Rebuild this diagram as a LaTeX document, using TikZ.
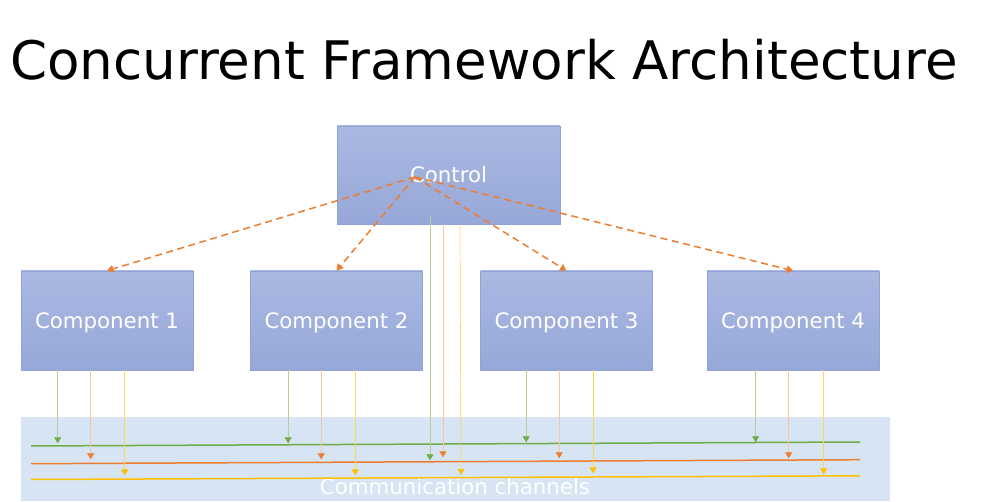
\documentclass[tikz,border=0pt]{standalone}
\usepackage{fontspec}
\setmainfont{DejaVu Sans}
\usetikzlibrary{arrows.meta}
\definecolor{boxtop}{HTML}{AAB8E2}
\definecolor{boxbot}{HTML}{97A8D8}
\definecolor{boxedge}{HTML}{8FA3D8}
\definecolor{chan}{HTML}{D6E4F3}
\definecolor{grn}{HTML}{70AD47}
\definecolor{orng}{HTML}{ED7D31}
\definecolor{ylw}{HTML}{FFC000}
\tikzset{
  box/.style={draw=boxedge, line width=0.6pt, top color=boxtop, bottom color=boxbot,
    text=white, font=\fontsize{21.3}{24}\selectfont, inner sep=0pt,
    text height=15.5pt, text depth=0pt,
    minimum width=172pt, minimum height=99pt},
  ctlarrow/.style={draw=orng, line width=1.5pt, dash pattern=on 7pt off 4.5pt,
    -{Triangle[length=6.5pt,width=7.5pt]}},
  chline/.style={line width=1.5pt},
  gfeed/.style={draw=grn!55!white, line width=0.7pt, -{Triangle[length=6pt,width=7pt,color=grn]}},
  ofeed/.style={draw=orng!45!white, line width=0.7pt, -{Triangle[length=6pt,width=7pt,color=orng]}},
  yfeed/.style={draw=ylw!65!white, line width=0.7pt, -{Triangle[length=6pt,width=7pt,color=ylw]}},
}
\begin{document}
\begin{tikzpicture}[x=1pt,y=-1pt]
\useasboundingbox (0,0) rectangle (996,502);
% title
\node[anchor=base west, inner sep=0pt, font=\fontsize{53.1}{60}\selectfont] (title) at (10,80) {Concurrent Framework Architecture};
% channels background
\node[fill=chan, inner sep=0pt, minimum width=869pt, minimum height=84pt] (chanbox) at (455.5,459) {};
\node[anchor=base, inner sep=0pt, text=white, font=\fontsize{21.3}{24}\selectfont] (chantext) at (455,494) {Communication channels};
% channel lines
\coordinate (g1) at (31,446); \coordinate (g2) at (860,442);
\coordinate (o1) at (31,463.7); \coordinate (o2) at (860,459.7);
\coordinate (y1) at (31,479.5); \coordinate (y2) at (860,475.8);
\draw[chline, grn] (g1) -- (g2);
\draw[chline, orng] (o1) -- (o2);
\draw[chline, ylw] (y1) -- (y2);
% boxes
\node[box, minimum width=223pt, minimum height=98pt] (ctl) at (448.5,175) {Control};
\node[box] (c1) at (107,320.5) {Component 1};
\node[box] (c2) at (336.5,320.5) {Component 2};
\node[box] (c3) at (566.5,320.5) {Component 3};
\node[box] (c4) at (793,320.5) {Component 4};
% control dashed arrows
\coordinate (hub) at (415,177);
\draw[ctlarrow] (hub) -- (c1.north);
\draw[ctlarrow] (hub) -- (c2.north);
\draw[ctlarrow] (hub) -- (c3.north);
\draw[ctlarrow] (hub) -- (c4.north);
% feeds from components
\draw[gfeed] ([xshift=37pt]c1.south west) -- ++(0,73);
\draw[ofeed] ([xshift=70pt]c1.south west) -- ++(0,89);
\draw[yfeed] ([xshift=104pt]c1.south west) -- ++(0,105);
\draw[gfeed] ([xshift=38pt]c2.south west) -- ++(0,73);
\draw[ofeed] ([xshift=71pt]c2.south west) -- ++(0,89);
\draw[yfeed] ([xshift=105pt]c2.south west) -- ++(0,105);
\draw[gfeed] ([xshift=46pt]c3.south west) -- ++(0,72);
\draw[ofeed] ([xshift=79pt]c3.south west) -- ++(0,88);
\draw[yfeed] ([xshift=113pt]c3.south west) -- ++(0,103);
\draw[gfeed] ([xshift=49pt]c4.south west) -- ++(0,72);
\draw[ofeed] ([xshift=82pt]c4.south west) -- ++(0,88);
\draw[yfeed] ([xshift=117pt]c4.south west) -- ++(0,104);
% feeds from control
\draw[gfeed] ([xshift=-18.5pt,yshift=8pt]ctl.south) -- ++(0,244);
\draw[ofeed] ([xshift=-5.5pt]ctl.south) -- ++(0,233);
\draw[yfeed] ([xshift=11.5pt]ctl.south) -- (461,475);
\end{tikzpicture}
\end{document}
